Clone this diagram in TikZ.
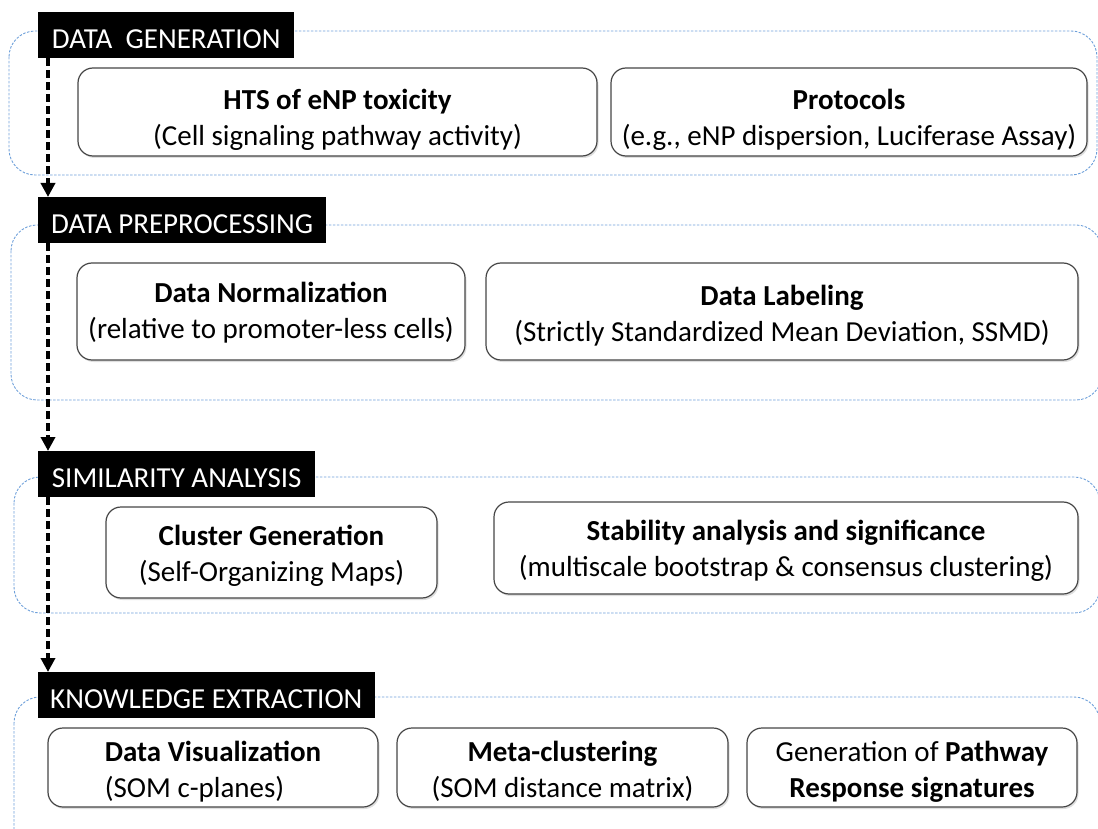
\documentclass[tikz,border=0pt]{standalone}
\usepackage{fontspec}
\setmainfont{Carlito}
\usetikzlibrary{arrows.meta,shadows}

\definecolor{framecol}{RGB}{110,160,218}
\definecolor{boxcol}{RGB}{70,70,70}

\begin{document}
\begin{tikzpicture}[
x=1pt, y=-1pt,
every node/.style={
    align=center,
    font=\fontsize{29}{36}\selectfont
},
stage/.style={
    fill=black,
    text=white,
    anchor=north west,
    inner xsep=12pt,
    text height=27pt,
    text depth=0pt,
    minimum height=46pt
},
task/.style={
    draw=boxcol,
    line width=1.2pt,
    fill=white,
    rounded corners=15pt,
    inner ysep=0pt,
    text height=#1,
    text depth=7pt,
    drop shadow={shadow xshift=1.5pt, shadow yshift=-2pt, opacity=.25}
},
task/.default=64pt,
frame/.style={
    draw=framecol,
    line width=0.9pt,
    dash pattern=on 2.5pt off 1.5pt,
    rounded corners=26pt
},
flow/.style={
    ->,
    line width=3.5pt,
    dash pattern=on 8pt off 4pt
},
>={Triangle[width=14pt,length=14pt]}
]
\useasboundingbox (0,0) rectangle (1098,829);
\clip (0,0) rectangle (1098,829);

% frames of the four stages
\draw[frame] (9,31) rectangle (1097,175);
\draw[frame] (11,225) rectangle (1102,400);
\draw[frame] (14,477) rectangle (1100,613);
\draw[frame] (14,697) rectangle (1100,880);

% stage headers
\node[stage, minimum width=256pt] (gen) at (38,12) {DATA~~GENERATION};
\node[stage, minimum width=288pt] (pre) at (38,197) {DATA PREPROCESSING};
\node[stage, minimum width=277pt] (sim) at (38,451) {SIMILARITY ANALYSIS};
\node[stage, minimum width=317pt] (ext) at (38,672) {KNOWLEDGE EXTRACTION};

% data generation
\node[task=74pt, minimum width=519pt, minimum height=88pt] (hts) at (337.5,112)
{\textbf{HTS of eNP toxicity}\\(Cell signaling pathway activity)};
\node[task=74pt, minimum width=476pt, minimum height=88pt] (protocols) at (849,112)
{\textbf{Protocols}\\(e.g., eNP dispersion, Luciferase Assay)};

% data preprocessing
\node[task=61pt, minimum width=388pt, minimum height=97pt] (norm) at (271,311.5)
{\textbf{Data Normalization}\\(relative to promoter-less cells)};
\node[task=67pt, minimum width=592pt, minimum height=97pt] (label) at (782,311.5)
{\textbf{Data Labeling}\\(Strictly Standardized Mean Deviation, SSMD)};

% similarity analysis
\node[task, minimum width=331pt, minimum height=91pt] (cluster) at (271.5,552.5)
{\textbf{Cluster Generation}\\(Self-Organizing Maps)};
\node[task, minimum width=584pt, minimum height=92pt] (stability) at (786,548)
{\textbf{Stability analysis and significance}\\(multiscale bootstrap \& consensus clustering)};

% knowledge extraction
\node[task=66pt, align=left, minimum width=330pt, minimum height=79pt] (visual) at (213,767.5)
{\textbf{Data Visualization}\\(SOM c-planes)};
\node[task=66pt, minimum width=331pt, minimum height=79pt] (meta) at (562.5,767.5)
{\textbf{Meta-clustering}\\(SOM distance matrix)};
\node[task=66pt, minimum width=330pt, minimum height=79pt] (signatures) at (912,767.5)
{Generation of \textbf{Pathway}\\\textbf{Response signatures}};

\draw[flow] ([xshift=10pt]gen.south west)--([xshift=10pt]pre.north west);
\draw[flow] ([xshift=10pt]pre.south west)--([xshift=10pt]sim.north west);
\draw[flow] ([xshift=10pt]sim.south west)--([xshift=10pt]ext.north west);

\end{tikzpicture}
\end{document}
